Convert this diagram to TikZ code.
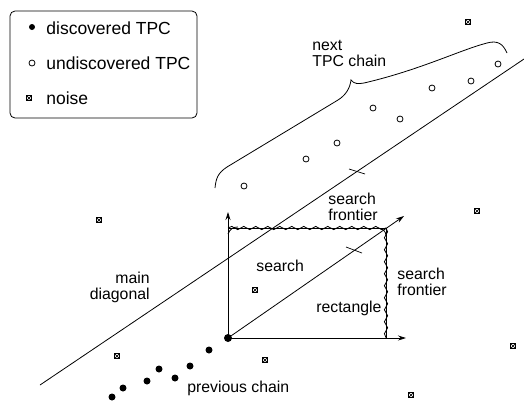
\documentclass[tikz,border=0pt]{standalone}
\usepackage{fontspec}
\setmainfont{Liberation Sans}
\usetikzlibrary{decorations.pathmorphing,arrows.meta}
\begin{document}
\begin{tikzpicture}[x=1pt,y=-1pt, line width=0.8pt,
 lbl/.style={inner sep=0pt, font=\fontsize{15.8}{15.5}\selectfont, align=left},
 lblr/.style={inner sep=0pt, font=\fontsize{15.8}{15.5}\selectfont, align=right},
 leg/.style={inner sep=0pt, font=\fontsize{17.5}{18}\selectfont},
 found/.style={circle, fill, inner sep=0pt, minimum size=7pt},
 opendot/.style={circle, draw, line width=0.8pt, inner sep=0pt, minimum size=6pt},
 noisemark/.style={rectangle, draw, line width=0.8pt, inner sep=0pt, minimum size=5.5pt,
   path picture={\draw[line width=0.7pt] (path picture bounding box.north west) -- (path picture bounding box.south east)
     (path picture bounding box.north east) -- (path picture bounding box.south west);}},
 wave/.style={decorate, decoration={snake, segment length=12pt, amplitude=1.6pt}},
 arr/.style={-{Stealth[length=8pt,width=5pt]}},
 tick/.style={line width=0.7pt}
]
\useasboundingbox (0,0) rectangle (524,400);

% legend
\draw[rounded corners=5pt] (10,11) rectangle (197,118);
\node[found, minimum size=6pt] (l1) at (32,27) {};
\node[leg, anchor=base west] (t1) at (46,34) {discovered TPC};
\node[opendot] (l2) at (32,63) {};
\node[leg, anchor=base west] (t2) at (46,69) {undiscovered TPC};
\node[noisemark] (l3) at (29,98) {};
\node[leg, anchor=base west] (t3) at (46,104) {noise};

% main diagonal
\coordinate (md1) at (40,385);
\coordinate (md2) at (524,59);
\draw (md1) -- (md2);
\coordinate (mt1) at (349,169);
\coordinate (mt2) at (365,174);
\draw[tick] (mt1) -- (mt2);

% search rectangle
\node[found, minimum size=8pt] (o) at (228,338) {};
\coordinate (tl) at (228,228);
\coordinate (tr) at (386,228);
\coordinate (br) at (386,338);
\coordinate (up) at (228,212);
\coordinate (rt) at (406,338);
\coordinate (dg) at (404,216);
\draw (tl) -- (tr) -- (br);
\draw[arr] (o.center) -- (up);
\draw[arr] (o.center) -- (rt);
\draw[arr] (o.center) -- (dg);
\draw[wave] (tl) -- (tr);
\draw[wave] (tr) -- (br);
\draw (228,234) .. controls (230,229) and (233,227) .. (238,227);
\draw (378,228) .. controls (383,229) and (386,231) .. (386,236);
\coordinate (it1) at (346,247);
\coordinate (it2) at (362,253);
\draw[tick] (it1) -- (it2);

% next chain brace
\draw (215,188) .. controls (216,178) and (218,173) .. (227,167) -- (338,100)
  .. controls (346,95) and (350,88) .. (351,80)
  .. controls (354,84) and (358,84) .. (364,83)
  .. controls (420,70) and (460,50) .. (487,43)
  .. controls (498,40) and (503,44) .. (507,53);

% undiscovered TPCs
\foreach \n/\x/\y in {a/244/186, b/306/159, c/337/143, d/373/108, e/400/119, f/432/88, g/471/81, h/498/64}
  \node[opendot] (u\n) at (\x,\y) {};

% previous chain
\foreach \n/\x/\y in {a/209/350, b/190/366, c/175/378, d/159/369, e/147/381, f/123/388, g/112/397}
  \node[found] (p\n) at (\x,\y) {};

% noise
\foreach \n/\x/\y in {a/468/22, b/477/211, c/99/220, d/255/290, e/117/356, f/265/360, g/513/346, h/411/395}
  \node[noisemark] (n\n) at (\x,\y) {};

% labels
\node[lbl, anchor=base west] (nx) at (312,66) {next\\TPC chain};
\node[lbl, anchor=base west] (sf1) at (328,220) {search\\frontier};
\node[lbl, anchor=base west] (sf2) at (397,295) {search\\frontier};
\node[lblr, anchor=base east] (mdl) at (150,299) {main\\diagonal};
\node[lbl, anchor=base west] (sr) at (256,271) {search};
\node[lbl, anchor=base west] (rc) at (316,312) {rectangle};
\node[lbl, anchor=base west] (pc) at (187,392) {previous chain};
\end{tikzpicture}
\end{document}
